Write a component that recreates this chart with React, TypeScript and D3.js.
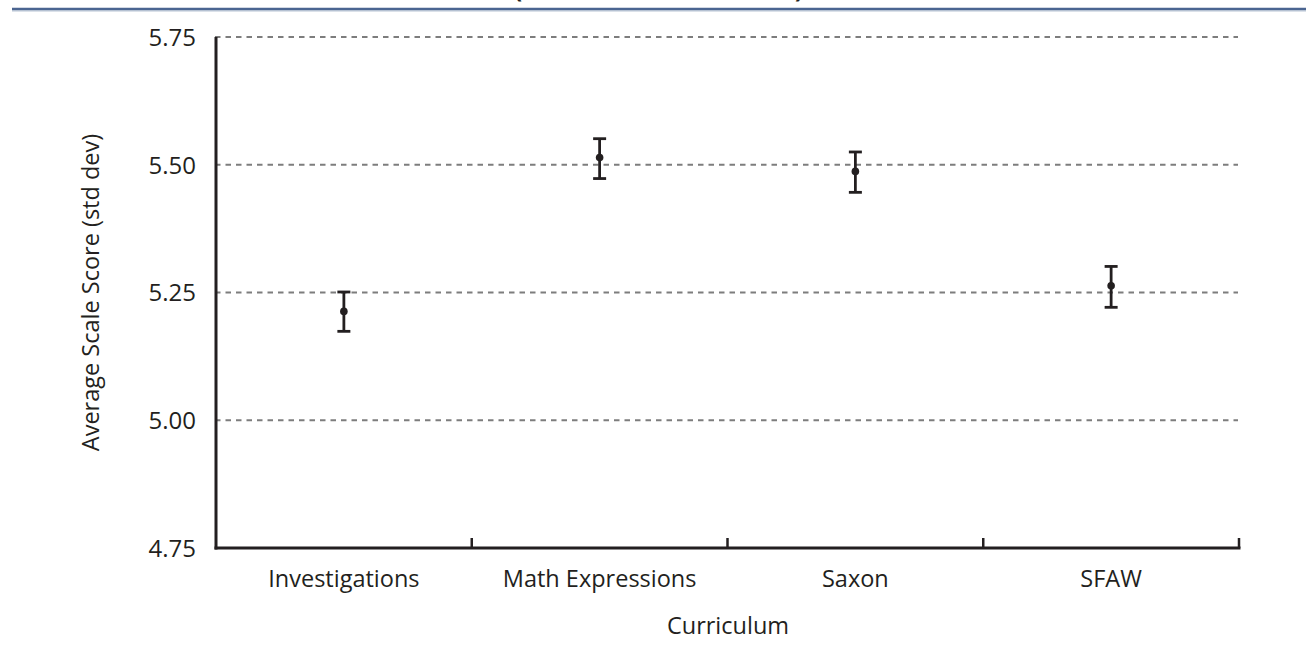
import React from "react";
import * as d3 from "d3";

const categories = ["Investigations", "Math Expressions", "Saxon", "SFAW"];
const means = [5.213, 5.514, 5.487, 5.263];
const lower = [5.174, 5.473, 5.446, 5.221];
const upper = [5.251, 5.551, 5.525, 5.301];
const yTicks = [4.75, 5.0, 5.25, 5.5, 5.75];
const yLabel = "Average Scale Score (std dev)";
const xLabel = "Curriculum";

const W = 1306;
const H = 649;
const left = 216;
const right = 1239;
const top = 37;
const bottom = 548;
const FONT = "'Open Sans', 'Noto Sans', sans-serif";
const INK = "#231f20";

export default function App() {
  const x = d3.scaleBand<string>().domain(categories).range([left, right]).padding(0);
  const y = d3.scaleLinear().domain([4.75, 5.75]).range([bottom, top]);
  const bw = x.bandwidth();
  const boundaries = categories.map((c) => (x(c) as number) + bw);

  return (
    <svg width={W} height={H} style={{ position: "absolute", left: 0, top: 0, background: "#fff" }}>
      {/* header rule */}
      <line x1={12} x2={1306} y1={9} y2={9} stroke="#4b6591" strokeWidth={2.6} />
      <line x1={12} x2={1306} y1={10.9} y2={10.9} stroke="#a3b2c8" strokeWidth={1} />
      {/* cut-off title parentheses */}
      <text x={514} y={-2} fontFamily={FONT} fontWeight={700} fontSize={24} fill={INK}>(</text>
      <text x={795} y={-2} fontFamily={FONT} fontWeight={700} fontSize={24} fill={INK}>)</text>

      {/* gridlines */}
      {yTicks.filter((t) => t > 4.75).map((t) => (
        <line key={t} x1={left - 1} x2={right - 1} y1={y(t)} y2={y(t)} stroke="#7d7d7d" strokeWidth={2} strokeDasharray="5.5,5" />
      ))}
      {/* y tick labels */}
      {yTicks.map((t) => (
        <text key={"l" + t} x={196} y={y(t)} dy="0.37em" textAnchor="end" fontFamily={FONT} fontSize={24} fill={INK}>
          {d3.format(".2f")(t)}
        </text>
      ))}
      {/* axes */}
      <line x1={left} x2={left} y1={top} y2={bottom + 1.5} stroke={INK} strokeWidth={3} />
      <line x1={left - 1.5} x2={right + 1.5} y1={bottom} y2={bottom} stroke={INK} strokeWidth={3} />
      {boundaries.map((b, i) => (
        <line key={"t" + i} x1={b} x2={b} y1={bottom} y2={bottom - 10} stroke={INK} strokeWidth={2.5} />
      ))}
      {/* x labels */}
      {categories.map((c) => (
        <text key={c} x={(x(c) as number) + bw / 2} y={587} textAnchor="middle" fontFamily={FONT} fontSize={23.5} fill={INK}>
          {c}
        </text>
      ))}
      <text x={728} y={634} textAnchor="middle" fontFamily={FONT} fontSize={23.5} fill={INK}>{xLabel}</text>
      <text transform={`translate(99,${(top + bottom) / 2}) rotate(-90)`} textAnchor="middle" fontFamily={FONT} fontSize={23.5} fill={INK}>
        {yLabel}
      </text>

      {/* error bars */}
      {categories.map((c, i) => {
        const cx = (x(c) as number) + bw / 2;
        return (
          <g key={"e" + c} stroke={INK} strokeWidth={2.8}>
            <line x1={cx} x2={cx} y1={y(upper[i])} y2={y(lower[i])} />
            <line x1={cx - 6.5} x2={cx + 6.5} y1={y(upper[i])} y2={y(upper[i])} />
            <line x1={cx - 6.5} x2={cx + 6.5} y1={y(lower[i])} y2={y(lower[i])} />
            <circle cx={cx} cy={y(means[i])} r={3.8} fill={INK} stroke="none" />
          </g>
        );
      })}
    </svg>
  );
}
